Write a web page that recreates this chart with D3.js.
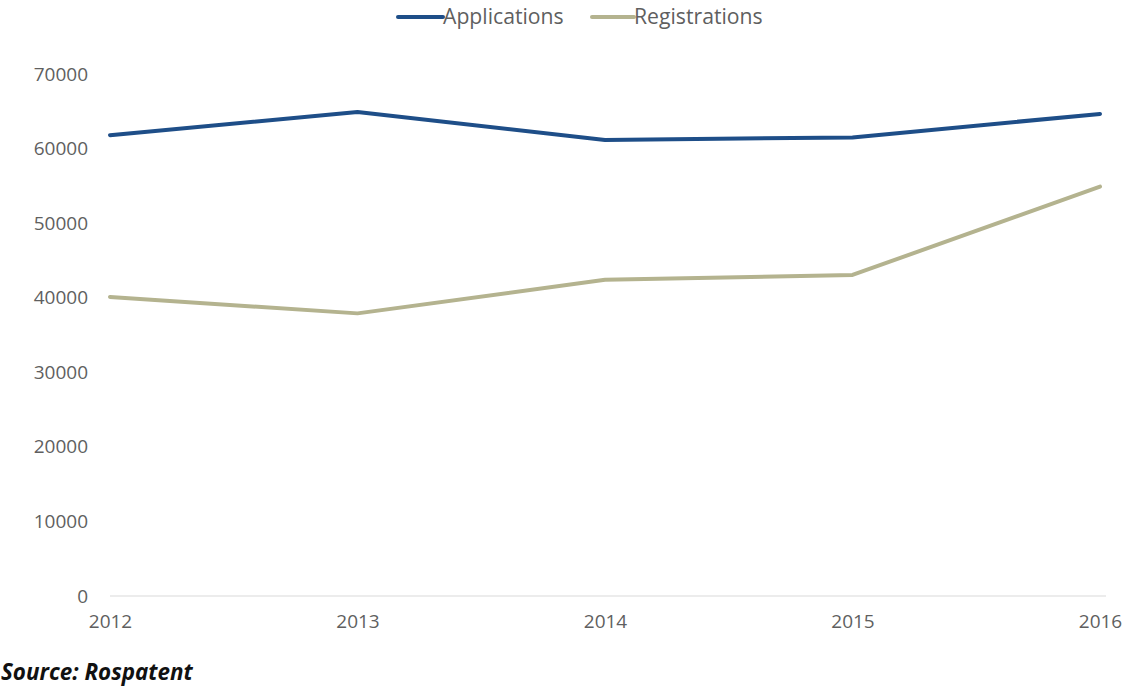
<!DOCTYPE html>
<html>
<head>
<meta charset="utf-8">
<script src="https://cdn.jsdelivr.net/npm/d3@7"></script>
<style>
  html, body { margin: 0; padding: 0; background: #fff; }
  svg { display: block; }
</style>
</head>
<body>
<svg id="chart" width="1129" height="693"></svg>
<script>
const years = ["2012", "2013", "2014", "2015", "2016"];
const applications = [61800, 64900, 61150, 61500, 64650];
const registrations = [40100, 37900, 42400, 43050, 54900];
const yTicks = [0, 10000, 20000, 30000, 40000, 50000, 60000, 70000];
const seriesNames = ["Applications", "Registrations"];
const seriesColors = ["#1e4e88", "#b4b38f"];
const sourceText = "Source: Rospatent";

const svg = d3.select("#chart");
const font = "'Open Sans', Lato, sans-serif";

const x = d3.scalePoint().domain(years).range([110, 1100]);
const y = d3.scaleLinear().domain([0, 70000]).range([596, 74]);

// baseline
svg.append("line")
  .attr("x1", 110).attr("x2", 1106)
  .attr("y1", y(0)).attr("y2", y(0))
  .attr("stroke", "#d9d9d9").attr("stroke-width", 1.2);

// y tick labels
const yAxis = d3.axisLeft(y).tickValues(yTicks).tickSize(0).tickPadding(0).tickFormat(d3.format("d"));
const gy = svg.append("g").attr("transform", "translate(88,0)").call(yAxis);
gy.select(".domain").remove();
gy.selectAll("text")
  .attr("font-family", font).attr("font-size", 19).attr("fill", "#5f5f5f");

// x tick labels
const xAxis = d3.axisBottom(x).tickSize(0).tickPadding(0);
const gx = svg.append("g").attr("transform", "translate(0,614)").call(xAxis);
gx.select(".domain").remove();
gx.selectAll("text")
  .attr("font-family", font).attr("font-size", 19).attr("fill", "#5f5f5f");

// lines
const line = d3.line().x((d, i) => x(years[i])).y(d => y(d));
[applications, registrations].forEach((vals, k) => {
  svg.append("path")
    .datum(vals)
    .attr("d", line)
    .attr("fill", "none")
    .attr("stroke", seriesColors[k])
    .attr("stroke-width", 4)
    .attr("stroke-linejoin", "round")
    .attr("stroke-linecap", "round");
});

// legend
const legendItems = [
  {x1: 398, x2: 443},
  {x1: 592, x2: 634}
];
legendItems.forEach((it, k) => {
  svg.append("line")
    .attr("x1", it.x1).attr("x2", it.x2)
    .attr("y1", 17).attr("y2", 17)
    .attr("stroke", seriesColors[k]).attr("stroke-width", 4)
    .attr("stroke-linecap", "round");
  svg.append("text")
    .attr("x", it.x2).attr("y", 24)
    .attr("font-family", font).attr("font-size", 21.2).attr("fill", "#5f5f5f")
    .text(seriesNames[k]);
});

// source
svg.append("text")
  .attr("x", 1).attr("y", 680)
  .attr("font-family", font).attr("font-size", 22.4).attr("font-weight", "bold")
  .attr("font-style", "italic").attr("fill", "#111")
  .text(sourceText);
</script>
</body>
</html>
